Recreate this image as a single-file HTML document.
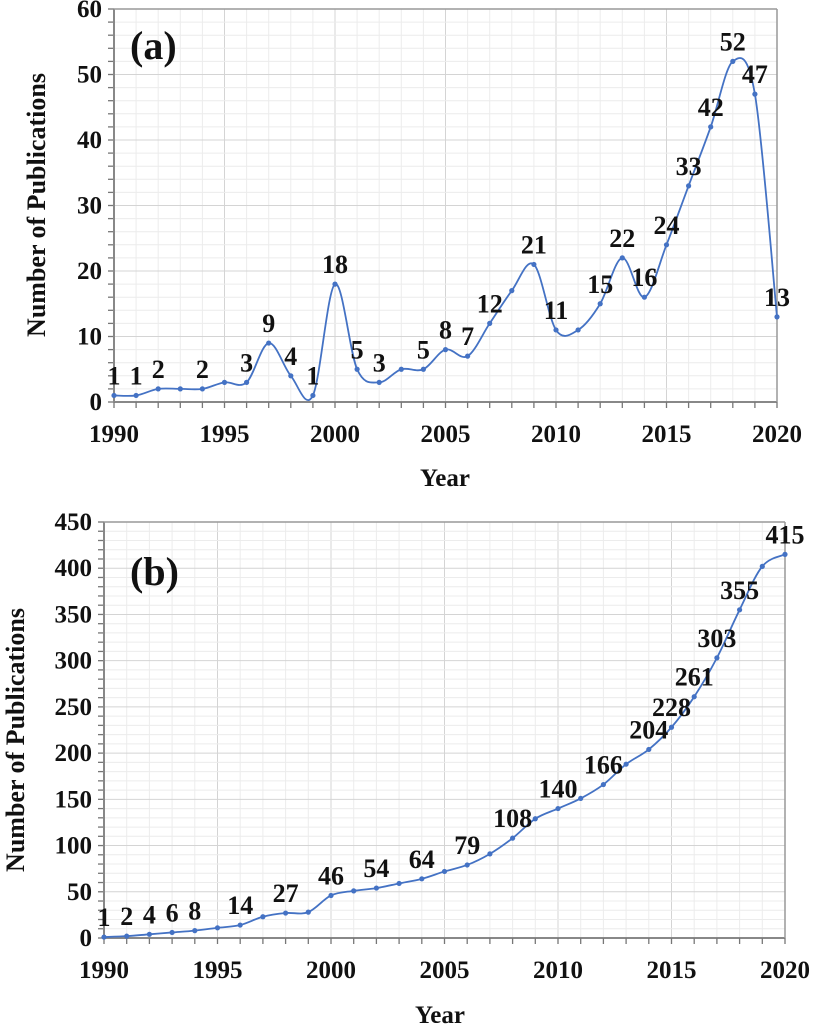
<!DOCTYPE html>
<html><head><meta charset="utf-8"><style>
body{margin:0;background:#fff;}
svg text{font-family:"Liberation Serif",serif;font-weight:bold;fill:#111;}
</style></head><body>
<svg id="s" width="813" height="1025" xmlns="http://www.w3.org/2000/svg"></svg>
<script>
const years=[1990,1991,1992,1993,1994,1995,1996,1997,1998,1999,2000,2001,2002,2003,2004,2005,2006,2007,2008,2009,2010,2011,2012,2013,2014,2015,2016,2017,2018,2019,2020];
const annual=[1,1,2,2,2,3,3,9,4,1,18,5,3,5,5,8,7,12,17,21,11,11,15,22,16,24,33,42,52,47,13];
const cumulative=[1,2,4,6,8,11,14,23,27,28,46,51,54,59,64,72,79,91,108,129,140,151,166,188,204,228,261,303,355,402,415];
const annualLabelShown=[1,1,1,0,1,0,1,1,1,1,1,1,1,0,1,1,1,1,0,1,1,0,1,1,1,1,1,1,1,1,1];
const cumLabelShown=[1,1,1,1,1,0,1,0,1,0,1,0,1,0,1,0,1,0,1,0,1,0,1,0,1,1,1,1,1,0,1];
const xTicks=[1990,1995,2000,2005,2010,2015,2020];
const yTicksA=[0,10,20,30,40,50,60];
const yTicksB=[0,50,100,150,200,250,300,350,400,450];

const NS="http://www.w3.org/2000/svg";
const svg=document.getElementById('s');
function el(t,a,p){const e=document.createElementNS(NS,t);for(const k in a)e.setAttribute(k,a[k]);(p||svg).appendChild(e);return e;}

function chart(cfg){
  const g=el('g',{});
  
  
  const X=v=>cfg.x0+(v-1990)*(cfg.x1-cfg.x0)/30;
  const Y=v=>cfg.y0-(v)*(cfg.y0-cfg.y1)/cfg.ymax;
  for(let yr=1990;yr<=2020;yr++){
    const l=el('line',{x1:X(yr),x2:X(yr),y1:cfg.y1,y2:cfg.y0,stroke:yr%5==0?'#d4d4d4':'#ececec','stroke-width':1},g);
    
  }
  for(let v=0;v<=cfg.ymax;v+=cfg.minor){
    const major=Math.abs(v/cfg.major-Math.round(v/cfg.major))<1e-6;
    const l=el('line',{x1:cfg.x0,x2:cfg.x1,y1:Y(v),y2:Y(v),stroke:major?'#d4d4d4':'#ececec','stroke-width':1},g);
    
    el('line',{x1:cfg.x0-6,x2:cfg.x0,y1:Y(v),y2:Y(v),stroke:'#777','stroke-width':1.3},g);
  }
  const ax=el('line',{x1:cfg.x0,x2:cfg.x0,y1:cfg.y1,y2:cfg.y0,stroke:'#888','stroke-width':2},g);
  
  const bx=el('line',{x1:cfg.x0,x2:cfg.x1,y1:cfg.y0,y2:cfg.y0,stroke:'#888','stroke-width':2},g);
  
  el('line',{x1:cfg.x1,x2:cfg.x1,y1:cfg.y1,y2:cfg.y0,stroke:'#999','stroke-width':1.5},g);
  el('line',{x1:cfg.x0,x2:cfg.x1,y1:cfg.y1,y2:cfg.y1,stroke:'#999','stroke-width':1.5},g);
  for(let yr=1990;yr<=2020;yr++) el('line',{x1:X(yr),x2:X(yr),y1:cfg.y0,y2:cfg.y0+6,stroke:'#777','stroke-width':1.3},g);
  xTicks.forEach(t=>{const e=el('text',{x:X(t),y:cfg.y0+40,'text-anchor':'middle','font-size':25},g);e.textContent=t;
    });
  cfg.yTicks.forEach(t=>{const e=el('text',{x:cfg.x0-12,y:Y(t)+8,'text-anchor':'end','font-size':25},g);e.textContent=t;
    });
  const xt=el('text',{x:cfg.xtX,y:cfg.xtY,'text-anchor':'middle','font-size':25},g);xt.textContent='Year';
  
  const yt=el('text',{x:0,y:0,'text-anchor':'middle','font-size':cfg.ytSize,transform:`translate(${cfg.ytX},${cfg.ytY}) rotate(-90)`},g);yt.textContent='Number of Publications';
  
  const pl=el('text',{x:cfg.panelX,y:cfg.panelY,'font-size':40},g);pl.textContent=cfg.panel;
  
  const pts=years.map((yr,i)=>[X(yr),Y(cfg.vals[i])]);
  let d=`M${pts[0][0]},${pts[0][1]}`;const t=1/6;
  for(let i=0;i<pts.length-1;i++){
    const p0=pts[Math.max(0,i-1)],p1=pts[i],p2=pts[i+1],p3=pts[Math.min(pts.length-1,i+2)];
    const c1=[p1[0]+(p2[0]-p0[0])*t,p1[1]+(p2[1]-p0[1])*t];
    const c2=[p2[0]-(p3[0]-p1[0])*t,p2[1]-(p3[1]-p1[1])*t];
    d+=` C${c1[0]},${c1[1]} ${c2[0]},${c2[1]} ${p2[0]},${p2[1]}`;
  }
  const line=el('path',{d:d,fill:'none',stroke:'#4472C4','stroke-width':1.8},g);
  
  pts.forEach((p,i)=>{
    const c=el('circle',{cx:p[0],cy:p[1],r:2.6,fill:'#4472C4'},g);
    
    if(cfg.shown[i]){
      const e=el('text',{x:p[0],y:p[1]-11,'text-anchor':'middle','font-size':26},g);e.textContent=cfg.vals[i];
      
    }
  });
}
chart({name:'chart-a-annual',x0:114,x1:777,y0:402,y1:9,ymax:60,major:10,minor:2,yTicks:yTicksA,vals:annual,shown:annualLabelShown,
  xtX:445,xtY:486,ytX:45,ytY:205,ytSize:26,panel:'(a)',panelX:130,panelY:59});
chart({name:'chart-b-cumulative',x0:104,x1:785,y0:938,y1:522,ymax:450,major:50,minor:10,yTicks:yTicksB,vals:cumulative,shown:cumLabelShown,
  xtX:440,xtY:1023,ytX:24,ytY:740,ytSize:26,panel:'(b)',panelX:130,panelY:585});
</script>
</body></html>
